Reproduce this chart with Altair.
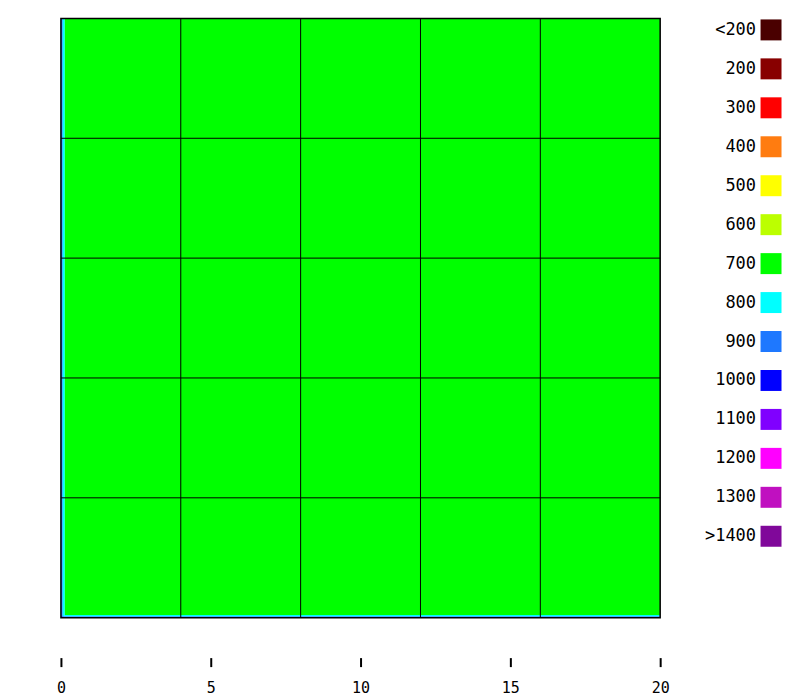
import altair as alt
import pandas as pd

# Category legend (labels and colours)
categories = ["<200", "200", "300", "400", "500", "600", "700", "800",
              "900", "1000", "1100", "1200", "1300", ">1400"]
colors = ["#4a0000", "#880000", "#ff0000", "#ff7c10", "#ffff00", "#bcff00",
          "#00ff00", "#00ffff", "#1e78ff", "#0000ff", "#8000ff", "#ff00ff",
          "#c010c0", "#80089a"]

# Field: cell edges (data units) and values (rows from bottom to top)
x_edges = [0, 0.06, 0.13, 20]
y_edges = [0, 0.05, 0.09, 20]
field_values = [
    [1000, 900, 900],
    [900, 800, 800],
    [900, 800, 700],
]

x_ticks = [0, 5, 10, 15, 20]
grid_lines = [4, 8, 12, 16]
frame = [0, 20]

rows = []
for j in range(len(y_edges) - 1):
    for i in range(len(x_edges) - 1):
        v = field_values[j][i]
        rows.append({"x": x_edges[i], "x2": x_edges[i + 1],
                     "y": y_edges[j], "y2": y_edges[j + 1],
                     "cat": str(v)})
cells = pd.DataFrame(rows)

color_scale = alt.Scale(domain=categories, range=colors)
xs = alt.Scale(domain=[0, 20], nice=False, zero=False)
ys = alt.Scale(domain=[0, 20], nice=False, zero=False)

heat = alt.Chart(cells).mark_rect(strokeWidth=0).encode(
    x=alt.X("x:Q", scale=xs,
            axis=alt.Axis(values=x_ticks, title=None, grid=False, domain=False,
                          offset=40, tickSize=9, tickWidth=2, tickColor="black",
                          labelPadding=14, labelFont="DejaVu Sans Mono",
                          labelFontSize=15, labelColor="black", format="d",
                          labelFlush=False, labelBound=False)),
    x2="x2:Q",
    y=alt.Y("y:Q", scale=ys, axis=None),
    y2="y2:Q",
    color=alt.Color("cat:N", scale=color_scale, legend=None),
)

gx = alt.Chart(pd.DataFrame({"g": grid_lines})).mark_rule(
    color="black", strokeWidth=1).encode(x=alt.X("g:Q", scale=xs))
gy = alt.Chart(pd.DataFrame({"g": grid_lines})).mark_rule(
    color="black", strokeWidth=1).encode(y=alt.Y("g:Q", scale=ys))

border = alt.Chart(pd.DataFrame({"x": [frame[0]], "x2": [frame[1]],
                                 "y": [frame[0]], "y2": [frame[1]]})).mark_rect(
    fill="transparent", stroke="black", strokeWidth=1.5).encode(
    x=alt.X("x:Q", scale=xs), x2="x2:Q",
    y=alt.Y("y:Q", scale=ys), y2="y2:Q")

plot = alt.layer(heat, gx, gy, border).properties(width=600, height=600)

leg_df = pd.DataFrame({"cat": categories})
ysort = alt.Y("cat:N", sort=categories, axis=None,
              scale=alt.Scale(paddingInner=0, paddingOuter=0))
leg_sq = alt.Chart(leg_df).mark_square(size=441, opacity=1, yOffset=-8).encode(
    x=alt.value(100),
    y=ysort,
    color=alt.Color("cat:N", scale=color_scale, legend=None),
)
leg_tx = alt.Chart(leg_df).mark_text(
    align="right", baseline="middle", dy=-8, font="DejaVu Sans Mono",
    fontSize=17, color="black").encode(
    x=alt.value(85),
    y=ysort,
    text="cat:N",
)
legend = alt.layer(leg_sq, leg_tx).properties(width=120, height=546)

chart = alt.hconcat(plot, legend, spacing=0).properties(
    padding={"left": 47, "top": 8, "right": 0, "bottom": 0}
).configure_view(stroke="transparent")

chart.save("out.html", embed_options={"renderer": "svg", "actions": False})
